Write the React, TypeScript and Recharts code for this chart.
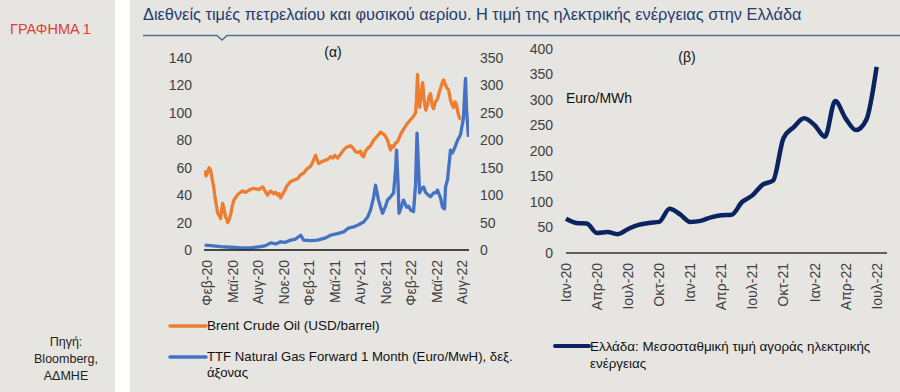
import React from "react";
import { LineChart, Line, XAxis, YAxis } from "recharts";

// (α) Brent, months since Jan-2020 (1 = Feb-20)
const brentT = [0.68, 0.85, 1.04, 1.2, 1.39, 1.55, 1.74, 1.9, 2.05, 2.21, 2.4, 2.56, 2.7, 2.8, 2.95, 3.15, 3.3, 3.39, 3.55, 3.74, 3.9, 4.09, 4.4, 4.68, 5.1, 5.51, 6.0, 6.45, 7.04, 7.51, 7.8, 8.09, 8.3, 8.45, 8.8, 9.05, 9.27, 9.45, 9.62, 9.8, 9.98, 10.4, 10.8, 11.2, 11.62, 12.0, 12.33, 12.7, 13.15, 13.4, 13.6, 13.74, 13.9, 14.1, 14.33, 14.7, 15.15, 15.5, 15.74, 16.0, 16.33, 16.7, 17.04, 17.4, 17.86, 18.2, 18.4, 18.68, 19.04, 19.2, 19.39, 19.6, 19.86, 20.2, 20.56, 21.0, 21.39, 21.6, 21.86, 22.05, 22.21, 22.4, 22.56, 22.75, 22.92, 23.15, 23.39, 23.8, 24.09, 24.5, 24.92, 25.2, 25.51, 25.62, 25.74, 25.85, 26.0, 26.2, 26.35, 26.5, 26.7, 26.92, 27.1, 27.27, 27.45, 27.62, 27.85, 28.09, 28.3, 28.45, 28.65, 28.8, 29.0, 29.2, 29.39, 29.6, 29.8, 29.98, 30.15, 30.33, 30.5, 30.65, 30.8];
const brentUsd = [58, 54, 57, 60, 58, 52, 46, 38, 33, 27, 25, 23, 30, 34, 30, 24, 22, 20, 22, 26, 31, 36, 39, 41, 43, 42, 44, 45, 44, 46, 43, 40, 42, 43, 41, 42, 40, 41, 38, 40, 42, 47, 50, 51, 52, 55, 56, 59, 61, 64, 67, 69, 66, 63, 64, 65, 66, 68, 67, 69, 67, 70, 73, 75, 76, 74, 72, 71, 72, 69, 68, 72, 74, 76, 80, 83, 86, 85, 84, 82, 80, 76, 73, 76, 75, 78, 79, 85, 88, 92, 95, 97, 100, 110, 128, 112, 104, 115, 122, 110, 102, 106, 112, 114, 106, 103, 108, 110, 115, 118, 122, 124, 121, 118, 117, 110, 106, 104, 108, 106, 100, 97, 95];

// (α) TTF front month, right axis
const ttfT = [0.68, 1.39, 2.56, 3.74, 4.92, 6.09, 7.27, 7.86, 8.45, 9.04, 9.62, 10.2, 10.8, 11.39, 11.98, 12.33, 13.15, 13.98, 14.92, 15.5, 16.33, 17.04, 17.62, 18.21, 18.8, 19.39, 19.86, 20.21, 20.56, 20.8, 21.03, 21.15, 21.39, 21.62, 21.98, 22.21, 22.56, 22.92, 23.15, 23.27, 23.45, 23.56, 23.86, 24.09, 24.45, 24.68, 24.92, 25.27, 25.51, 25.68, 25.86, 25.98, 26.21, 26.45, 26.68, 27.03, 27.27, 27.62, 27.86, 28.09, 28.45, 28.68, 28.92, 29.04, 29.27, 29.62, 29.86, 30.21, 30.45, 30.8, 31.04, 31.15, 31.27, 31.39, 31.5, 31.62, 31.74];
const ttfEur = [9, 8, 6, 5, 4, 4, 6, 8, 13, 11, 15, 14, 18, 20, 27, 18, 17, 18, 22, 27, 30, 33, 40, 42, 46, 51, 60, 73, 95, 118, 100, 91, 78, 67, 80, 91, 97, 104, 146, 182, 120, 67, 80, 91, 78, 80, 73, 70, 120, 213, 150, 104, 112, 115, 105, 100, 97, 104, 104, 109, 95, 78, 75, 115, 128, 182, 177, 190, 200, 210, 231, 241, 280, 313, 260, 231, 206];

const leftTicks = [1, 4, 7, 10, 13, 16, 19, 22, 25, 28, 31];
const leftLabels = ["Φεβ-20", "Μαϊ-20", "Αυγ-20", "Νοε-20", "Φεβ-21", "Μαϊ-21", "Αυγ-21", "Νοε-21", "Φεβ-22", "Μαϊ-22", "Αυγ-22"];

// (β) Greek day-ahead market, monthly Jan-20 .. Jul-22
const greeceMonths = Array.from({ length: 31 }, (_, i) => i);
const greecePrice = [67, 59, 58, 39, 41, 37, 47, 55, 59, 61, 87, 76, 61, 63, 70, 74, 75, 100, 113, 134, 142, 225, 247, 264, 251, 228, 298, 264, 241, 261, 365];

const rightTicks = [0, 3, 6, 9, 12, 15, 18, 21, 24, 27, 30];
const rightLabels = ["Ιαν-20", "Απρ-20", "Ιουλ-20", "Οκτ-20", "Ιαν-21", "Απρ-21", "Ιουλ-21", "Οκτ-21", "Ιαν-22", "Απρ-22", "Ιουλ-22"];

const FONT = "'Liberation Sans', Arial, sans-serif";
const BG = "#e6e5e1";
const TICK = "#404040";

const brentData = brentT.map((t, i) => ({ t, v: brentUsd[i] }));
const ttfData = ttfT.map((t, i) => ({ t, v: ttfEur[i] }));
const greeceData = greeceMonths.map((t, i) => ({ t, v: greecePrice[i] }));

function RotTick(labels: string[], ticks: number[]) {
    return (props: any) => {
        const { x, y, payload } = props;
        const idx = ticks.indexOf(payload.value);
        const yy = y + 2;
        return (
            <text x={x} y={yy} transform={`rotate(-90 ${x} ${yy})`} textAnchor="end" dy="0.36em"
                fontSize={14} fill={TICK} fontFamily={FONT}>
                {labels[idx] ?? ""}
            </text>
        );
    };
}

const tickStyle = { fontSize: 14, fill: TICK, fontFamily: FONT };

export default function App() {
    return (
        <div style={{ position: "absolute", left: 0, top: 0, width: 900, height: 392, background: "#ffffff", fontFamily: FONT, overflow: "hidden" }}>
            {/* sidebar */}
            <div style={{ position: "absolute", left: 0, top: 0, width: 115, height: 392, background: BG }} />
            <div style={{ position: "absolute", left: 10, top: 21, fontSize: 14.5, color: "#e0402f" }}>ΓΡΑΦΗΜΑ 1</div>
            <div style={{ position: "absolute", left: 16, width: 100, top: 334, fontSize: 12.5, lineHeight: "17px", color: "#222", textAlign: "center" }}>
                Πηγή:<br />Bloomberg,<br />ΑΔΜΗΕ
            </div>

            {/* main panel */}
            <div style={{ position: "absolute", left: 130, top: 0, width: 770, height: 392, background: BG }} />
            <div style={{ position: "absolute", left: 143, top: 5, fontSize: 16.35, color: "#1f3d6d", whiteSpace: "nowrap" }}>
                Διεθνείς τιμές πετρελαίου και φυσικού αερίου. Η τιμή της ηλεκτρικής ενέργειας στην Ελλάδα
            </div>
            <svg style={{ position: "absolute", left: 0, top: 0 }} width={900} height={50}>
                <path d="M143 35.5 L217 35.5 L222 40 L227 35.5 L900 35.5" fill="none" stroke="#4f6f95" strokeWidth={1.6} />
            </svg>

            {/* (α) */}
            <div style={{ position: "absolute", left: 300, width: 66, textAlign: "center", top: 44, fontSize: 14, color: "#111" }}>(α)</div>
            <div style={{ position: "absolute", left: 140, top: 40 }}>
                <LineChart width={370} height={280} margin={{ top: 18, right: 0, bottom: 10, left: 0 }}>
                    <XAxis dataKey="t" type="number" domain={[0.6, 31.8]} ticks={leftTicks} interval={0}
                        tick={RotTick(leftLabels, leftTicks)} tickLine={false} height={60}
                        axisLine={{ stroke: "#111", strokeWidth: 1.6 }} allowDataOverflow />
                    <YAxis yAxisId="l" domain={[0, 140]} ticks={[0, 20, 40, 60, 80, 100, 120, 140]} width={64}
                        axisLine={false} tickLine={false} tickMargin={6} tick={tickStyle} />
                    <YAxis yAxisId="r" orientation="right" domain={[0, 350]} ticks={[0, 50, 100, 150, 200, 250, 300, 350]} width={41}
                        axisLine={false} tickLine={false} tickMargin={5} tick={{ ...tickStyle, textAnchor: "start" }} />
                    <Line yAxisId="l" data={brentData} dataKey="v" type="linear" stroke="#ed7d31" strokeWidth={3.3}
                        dot={false} isAnimationActive={false} strokeLinejoin="round" />
                    <Line yAxisId="r" data={ttfData} dataKey="v" type="linear" stroke="#4472c4" strokeWidth={3.3}
                        dot={false} isAnimationActive={false} strokeLinejoin="round" />
                </LineChart>
            </div>

            {/* (α) legend */}
            <svg style={{ position: "absolute", left: 168, top: 318 }} width={40} height={50}>
                <line x1={2} x2={38} y1={8} y2={8} stroke="#ed7d31" strokeWidth={3.5} strokeLinecap="round" />
                <line x1={2} x2={38} y1={39} y2={39} stroke="#4472c4" strokeWidth={3.5} strokeLinecap="round" />
            </svg>
            <div style={{ position: "absolute", left: 207, top: 318, fontSize: 13.5, color: "#111", whiteSpace: "nowrap" }}>
                Brent Crude Oil (USD/barrel)
            </div>
            <div style={{ position: "absolute", left: 207, top: 349, fontSize: 13.2, lineHeight: "16px", color: "#111", whiteSpace: "nowrap" }}>
                TTF Natural Gas Forward 1 Month (Euro/MwH), δεξ.<br />άξονας
            </div>

            {/* (β) */}
            <div style={{ position: "absolute", left: 654, width: 66, textAlign: "center", top: 49, fontSize: 14, color: "#111" }}>(β)</div>
            <div style={{ position: "absolute", left: 566, top: 90, fontSize: 14, color: "#111" }}>Euro/MWh</div>
            <div style={{ position: "absolute", left: 490, top: 40 }}>
                <LineChart width={410} height={280} margin={{ top: 9, right: 13, bottom: 10, left: 0 }}>
                    <XAxis dataKey="t" type="number" domain={[0, 31]} ticks={rightTicks} interval={0}
                        tick={RotTick(rightLabels, rightTicks)} tickLine={false} height={57}
                        axisLine={{ stroke: "#333", strokeWidth: 1.6 }} />
                    <YAxis domain={[0, 400]} ticks={[0, 50, 100, 150, 200, 250, 300, 350, 400]} width={76}
                        axisLine={false} tickLine={false} tickMargin={7} tick={tickStyle} />
                    <Line data={greeceData} dataKey="v" type="monotone" stroke="#0c2361" strokeWidth={4.5}
                        dot={false} isAnimationActive={false} strokeLinejoin="round" />
                </LineChart>
            </div>

            {/* (β) legend */}
            <svg style={{ position: "absolute", left: 552, top: 338 }} width={40} height={16}>
                <line x1={3} x2={37} y1={8} y2={8} stroke="#0c2361" strokeWidth={4} strokeLinecap="round" />
            </svg>
            <div style={{ position: "absolute", left: 590, top: 338, fontSize: 13.4, lineHeight: "17px", color: "#111", whiteSpace: "nowrap" }}>
                Ελλάδα: Μεσοσταθμική τιμή αγοράς ηλεκτρικής<br />ενέργειας
            </div>
        </div>
    );
}
